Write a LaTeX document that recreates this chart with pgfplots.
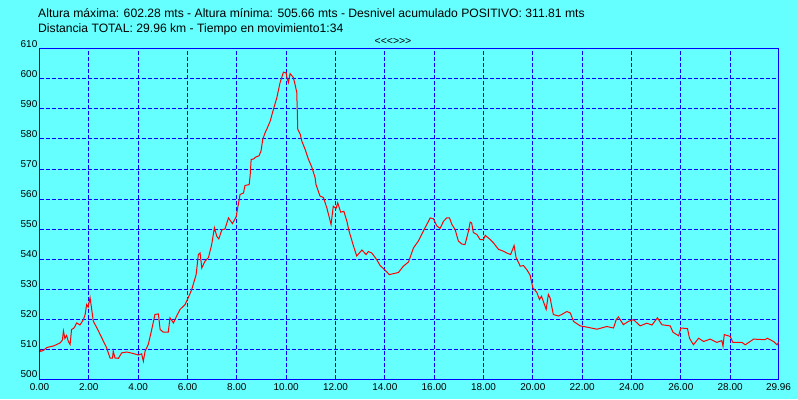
\documentclass[border=0pt]{standalone}
\usepackage{fontspec}
\setmainfont{Liberation Sans}
\usepackage{pgfplots}
\pgfplotsset{compat=1.18}
\definecolor{bgcyan}{RGB}{102,255,255}
\definecolor{gridblue}{RGB}{0,0,255}
\begin{document}
\begin{tikzpicture}[x=1bp,y=1bp]
\fill[bgcyan] (0,0) rectangle (798,399);
\useasboundingbox (0,0) rectangle (798,399);
\node[anchor=base west, inner sep=0pt, font=\fontsize{12.2}{14}\selectfont] at (38,382) {Altura máxima: 602.28 mts - Altura mínima: 505.66 mts - Desnivel acumulado POSITIVO: 311.81 mts};
\node[anchor=base west, inner sep=0pt, font=\fontsize{12.2}{14}\selectfont] at (38,366.5) {Distancia TOTAL: 29.96 km - Tiempo en movimiento1:34};
\node[anchor=base, inner sep=0pt, font=\fontsize{10.5}{12}\selectfont] at (393,355) {{<}{<}{<}{>}{>}{>}};
\begin{axis}[
  at={(39.5bp,20bp)}, anchor=south west,
  width=739bp, height=330bp, scale only axis,
  xmin=0, xmax=29.96, ymin=500, ymax=610,
  xtick={0,2,4,6,8,10,12,14,16,18,20,22,24,26,28,29.96},
  ytick={500,510,520,530,540,550,560,570,580,590,600,610},
  xticklabel style={/pgf/number format/fixed, /pgf/number format/precision=2, /pgf/number format/fixed zerofill, anchor=north, inner sep=0pt, yshift=-4bp},
  yticklabel style={/pgf/number format/fixed, /pgf/number format/precision=0, anchor=south east, inner sep=0pt, xshift=-2bp, yshift=1bp},
  /pgf/number format/assume math mode=true,
  tick label style={font=\fontsize{10}{12}\selectfont},
  major tick length=0pt,
  grid=major,
  major grid style={gridblue, line width=1bp, dash pattern=on 4bp off 2bp},
  axis line style={gridblue, line width=1bp},
]
\addplot[red, line width=1bp, sharp plot] coordinates {
(0.00,510) (0.05,509.2) (0.15,509.5) (0.30,510.5) (0.45,510.8) (0.56,511) (0.70,511.5) (0.83,512) (0.93,513) (0.97,516) (1.03,513.5) (1.10,514.5) (1.17,512.5) (1.24,511.5) (1.30,516.5) (1.40,517) (1.51,518.7) (1.64,518) (1.78,519.8) (1.85,521.5) (1.91,524.8) (1.97,524) (2.05,527.1) (2.12,523) (2.18,519.3) (2.39,516) (2.59,512.6) (2.72,510.4) (2.86,507) (2.96,507) (2.99,509.3) (3.06,507) (3.20,506.9) (3.33,508.7) (3.54,509) (3.80,508.5) (4.01,508) (4.14,508.4) (4.21,505.9) (4.28,509.3) (4.41,511.5) (4.55,516.5) (4.68,521.5) (4.82,521.7) (4.89,516.5) (5.02,515.6) (5.22,515.6) (5.29,520.4) (5.43,518.7) (5.56,521) (5.70,523.2) (5.90,524.8) (6.03,527.1) (6.17,529.8) (6.35,534.8) (6.44,541.5) (6.51,542) (6.58,537) (6.71,539.3) (6.85,540.5) (6.98,544.8) (7.09,550.4) (7.19,547.5) (7.27,546.7) (7.39,549.7) (7.52,550) (7.66,553.7) (7.82,551.8) (7.97,554) (8.06,558.2) (8.13,561.5) (8.27,562) (8.33,564.5) (8.50,564.8) (8.54,567.8) (8.58,573.2) (8.67,573.3) (8.77,574) (8.90,574.4) (8.98,576) (9.05,579.8) (9.14,582) (9.21,583.2) (9.35,585.9) (9.48,589.8) (9.62,593.7) (9.75,598.7) (9.89,602.3) (10.00,602) (10.03,600.5) (10.09,598.8) (10.16,601.8) (10.29,600.5) (10.36,598.2) (10.43,595.5) (10.47,583.2) (10.57,581.6) (10.63,579.4) (10.77,576.5) (10.90,573.3) (11.04,570.6) (11.17,567.2) (11.21,564.8) (11.37,561) (11.51,560.5) (11.65,557) (11.82,551.5) (11.91,557.6) (12.02,556.8) (12.09,558.7) (12.21,555.6) (12.34,555.9) (12.46,552.6) (12.55,549.3) (12.73,544.3) (12.86,541) (13.07,543) (13.24,541.5) (13.33,542.5) (13.47,542) (13.67,539.8) (13.81,537.8) (14.01,536.3) (14.18,534.8) (14.55,535.5) (14.75,537.6) (14.96,539) (15.16,543.7) (15.36,546) (15.56,549.3) (15.84,553.7) (15.97,553.4) (16.11,551) (16.24,550.2) (16.38,552.6) (16.51,553.7) (16.62,553.7) (16.72,551.5) (16.85,549.8) (16.98,546) (17.12,545) (17.25,544.8) (17.39,549.3) (17.46,552.3) (17.52,552) (17.59,548.8) (17.73,548.2) (17.86,546.5) (18.00,546.5) (18.07,547.9) (18.27,546.5) (18.40,545.4) (18.61,543.2) (18.81,542.6) (18.94,542) (19.10,541.5) (19.24,544.5) (19.32,540.5) (19.49,537.6) (19.62,537.8) (19.76,536.4) (19.89,534.6) (20.00,530.4) (20.16,528.9) (20.27,526.5) (20.35,527.6) (20.42,526) (20.54,523.2) (20.63,528.2) (20.70,527) (20.83,521.5) (21.04,521) (21.17,521.5) (21.38,522.5) (21.52,522) (21.65,519.2) (21.92,517.7) (22.19,517.3) (22.60,516.6) (23.00,517.5) (23.27,517) (23.38,519.8) (23.47,520.7) (23.67,518.1) (23.87,519.2) (24.08,519.8) (24.35,517.7) (24.62,518.6) (24.83,518) (25.05,520.4) (25.23,518.1) (25.57,517.7) (25.68,515.6) (25.91,514.4) (26.00,517) (26.27,516.8) (26.35,513.6) (26.51,511.4) (26.72,513.6) (26.92,512.5) (27.19,513.3) (27.46,512.2) (27.66,512.8) (27.71,510.9) (27.76,514.8) (28.00,514.2) (28.11,512.2) (28.48,512.2) (28.61,511.4) (28.95,513.3) (29.42,513.1) (29.50,513.6) (29.76,512.5) (29.90,511.4) (29.96,512.2)
};
\end{axis}
\end{tikzpicture}
\end{document}
